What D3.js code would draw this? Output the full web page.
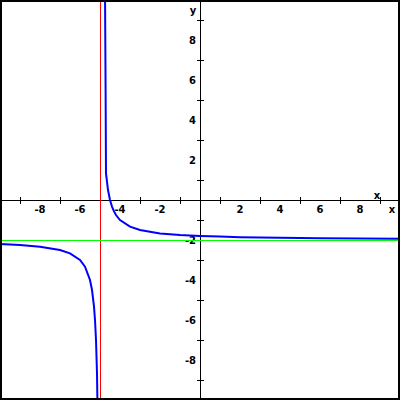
<!DOCTYPE html>
<html><head><meta charset="utf-8">
<script src="https://cdn.jsdelivr.net/npm/d3@7"></script>
<style>body{margin:0;background:#fff}svg{display:block}text{font-family:"DejaVu Sans",sans-serif;font-weight:bold;font-size:10px}</style>
</head><body><svg id="c" width="400" height="400"></svg>
<script>
// x, y samples of the blue curve (right branch and left branch)
const rightX = [-4.75, -4.72, -4.7, -4.6, -4.5, -4.4, -4.3, -4.2, -4.0, -3.5, -3.0, -2.0, -1.0, 0, 1, 2, 4, 6, 8, 10];
const rightY = [10.5, 5.5, 1.33, 0.5, 0, -0.33, -0.57, -0.75, -1.0, -1.33, -1.5, -1.67, -1.75, -1.8, -1.83, -1.857, -1.889, -1.909, -1.923, -1.933];
const leftX = [-10, -9, -8, -7, -6.5, -6, -5.75, -5.5, -5.4, -5.3, -5.25, -5.2, -5.15, -5.1];
const leftY = [-2.2, -2.25, -2.333, -2.5, -2.667, -3, -3.333, -4, -4.5, -5.333, -6, -7, -8.667, -12];
const vAsym = -5;
const hAsym = -2;
const tickLabels = [-8, -6, -4, -2, 2, 4, 6, 8];
const minorTicks = [-9, -7, -5, -3, -1, 1, 3, 5, 7, 9];

const svg = d3.select("#c");
const x = d3.scaleLinear().domain([-10, 10]).range([0, 400]);
const y = d3.scaleLinear().domain([-10, 10]).range([400, 0]);

svg.append("defs").append("clipPath").attr("id","clip").append("rect").attr("x",0).attr("y",0).attr("width",400).attr("height",400);

// axes
svg.append("line").attr("x1",0).attr("x2",400).attr("y1",y(0)+0.5).attr("y2",y(0)+0.5).attr("stroke","#000");
svg.append("line").attr("y1",0).attr("y2",400).attr("x1",x(0)+0.5).attr("x2",x(0)+0.5).attr("stroke","#000");

svg.selectAll(".tx").data(minorTicks).join("line").attr("class","tx")
  .attr("x1",d=>x(d)+0.5).attr("x2",d=>x(d)+0.5).attr("y1",y(0)-3).attr("y2",y(0)+4).attr("stroke","#000");
svg.selectAll(".ty").data(minorTicks).join("line").attr("class","ty")
  .attr("y1",d=>y(d)+0.5).attr("y2",d=>y(d)+0.5).attr("x1",x(0)-3).attr("x2",x(0)+4).attr("stroke","#000");

svg.selectAll(".lx").data(tickLabels).join("text").attr("class","lx")
  .attr("x",d=>x(d)).attr("y",y(0)+13).attr("text-anchor","middle").text(d=>d<0?"-"+Math.abs(d):d);
svg.selectAll(".ly").data(tickLabels).join("text").attr("class","ly")
  .attr("x",x(0)-4).attr("y",d=>y(d)+4).attr("text-anchor","end").text(d=>d<0?"-"+Math.abs(d):d);

svg.append("text").attr("x",377).attr("y",199).attr("text-anchor","middle").text("x");
svg.append("text").attr("x",392).attr("y",213).attr("text-anchor","middle").text("x");
svg.append("text").attr("x",193).attr("y",14).attr("text-anchor","middle").text("y");

// asymptotes
svg.append("line").attr("x1",x(vAsym)+0.5).attr("x2",x(vAsym)+0.5).attr("y1",0).attr("y2",400).attr("stroke","#ff0000");
svg.append("line").attr("x1",0).attr("x2",400).attr("y1",y(hAsym)+0.5).attr("y2",y(hAsym)+0.5).attr("stroke","#00ff00");

// curve
const line = d3.line().x(d=>x(d[0])).y(d=>y(d[1]));
const g = svg.append("g").attr("clip-path","url(#clip)");
g.append("path").datum(rightX.map((v,i)=>[v,rightY[i]])).attr("d",line).attr("fill","none").attr("stroke","#0000ff").attr("stroke-width",2);
g.append("path").datum(leftX.map((v,i)=>[v,leftY[i]])).attr("d",line).attr("fill","none").attr("stroke","#0000ff").attr("stroke-width",2);

// border
svg.append("rect").attr("x",1).attr("y",1).attr("width",398).attr("height",398).attr("fill","none").attr("stroke","#000").attr("stroke-width",2);
</script></body></html>
